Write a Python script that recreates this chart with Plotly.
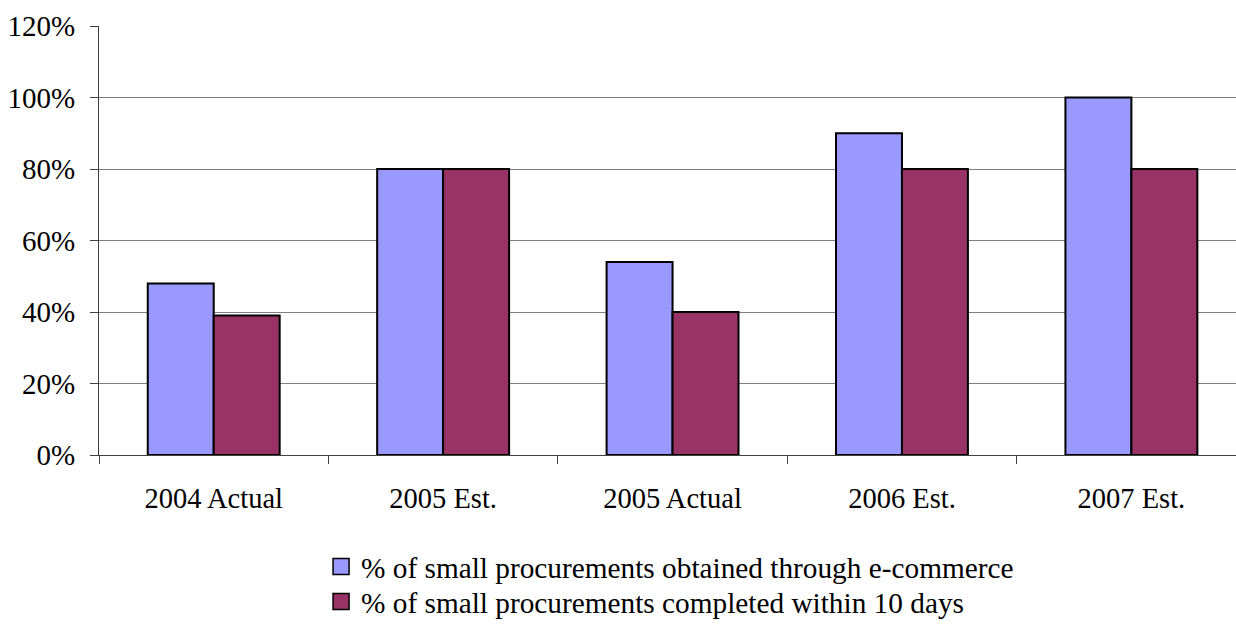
import plotly.graph_objects as go

categories = ["2004 Actual", "2005 Est.", "2005 Actual", "2006 Est.", "2007 Est."]
ecommerce = [48, 80, 54, 90, 100]
within10 = [39, 80, 40, 80, 80]
series_names = ["% of small procurements obtained through e-commerce",
                "% of small procurements completed within 10 days"]
series_colors = ["#9999FF", "#993366"]
ytick_vals = [0, 20, 40, 60, 80, 100, 120]
ytick_text = [f"{v}%" for v in ytick_vals]

FONT = "Liberation Serif, Times New Roman, serif"

fig = go.Figure()
for vals, name, col in zip([ecommerce, within10], series_names, series_colors):
    fig.add_trace(go.Bar(x=categories, y=vals, name=name, showlegend=False,
                         marker=dict(color=col, line=dict(color="black", width=2))))

# legend entries (square swatches like the original)
for i, (name, col) in enumerate(zip(series_names, series_colors)):
    fig.add_trace(go.Scatter(x=[None], y=[None], mode="markers", name=name,
                             legend="legend" if i == 0 else "legend2",
                             marker=dict(symbol="square", size=16, color=col,
                                         line=dict(color="black", width=1.5))))

leg_common = dict(orientation="v", x=0.1953, xanchor="left", yanchor="middle",
                  yref="container", font=dict(family=FONT, size=29.3),
                  itemsizing="trace", bgcolor="rgba(0,0,0,0)")

fig.update_layout(
    width=1236, height=624,
    margin=dict(l=99, r=0, t=26, b=169, autoexpand=False),
    paper_bgcolor="white", plot_bgcolor="white",
    barmode="group", bargap=0.425, bargroupgap=0,
    font=dict(family=FONT, size=28, color="black"),
    legend=dict(leg_common, y=1 - 567 / 624),
    legend2=dict(leg_common, y=1 - 602 / 624),
    showlegend=True,
)
fig.update_xaxes(type="category", range=[-0.5, 4.456], tickson="boundaries",
                 ticks="outside", ticklen=8, tickcolor="#404040",
                 showline=True, linecolor="#404040", linewidth=1,
                 showgrid=False, ticklabelstandoff=18, automargin=False,
                 tickfont=dict(family=FONT, size=28.5))
fig.update_yaxes(range=[0, 120], tickvals=ytick_vals, ticktext=ytick_text,
                 ticks="outside", ticklen=8, tickcolor="#404040",
                 showline=True, linecolor="#404040", linewidth=1,
                 showgrid=True, gridcolor="#808080", gridwidth=1,
                 zeroline=False, ticklabelstandoff=9, automargin=False,
                 tickfont=dict(family=FONT, size=29))

fig.write_html("out.html")
